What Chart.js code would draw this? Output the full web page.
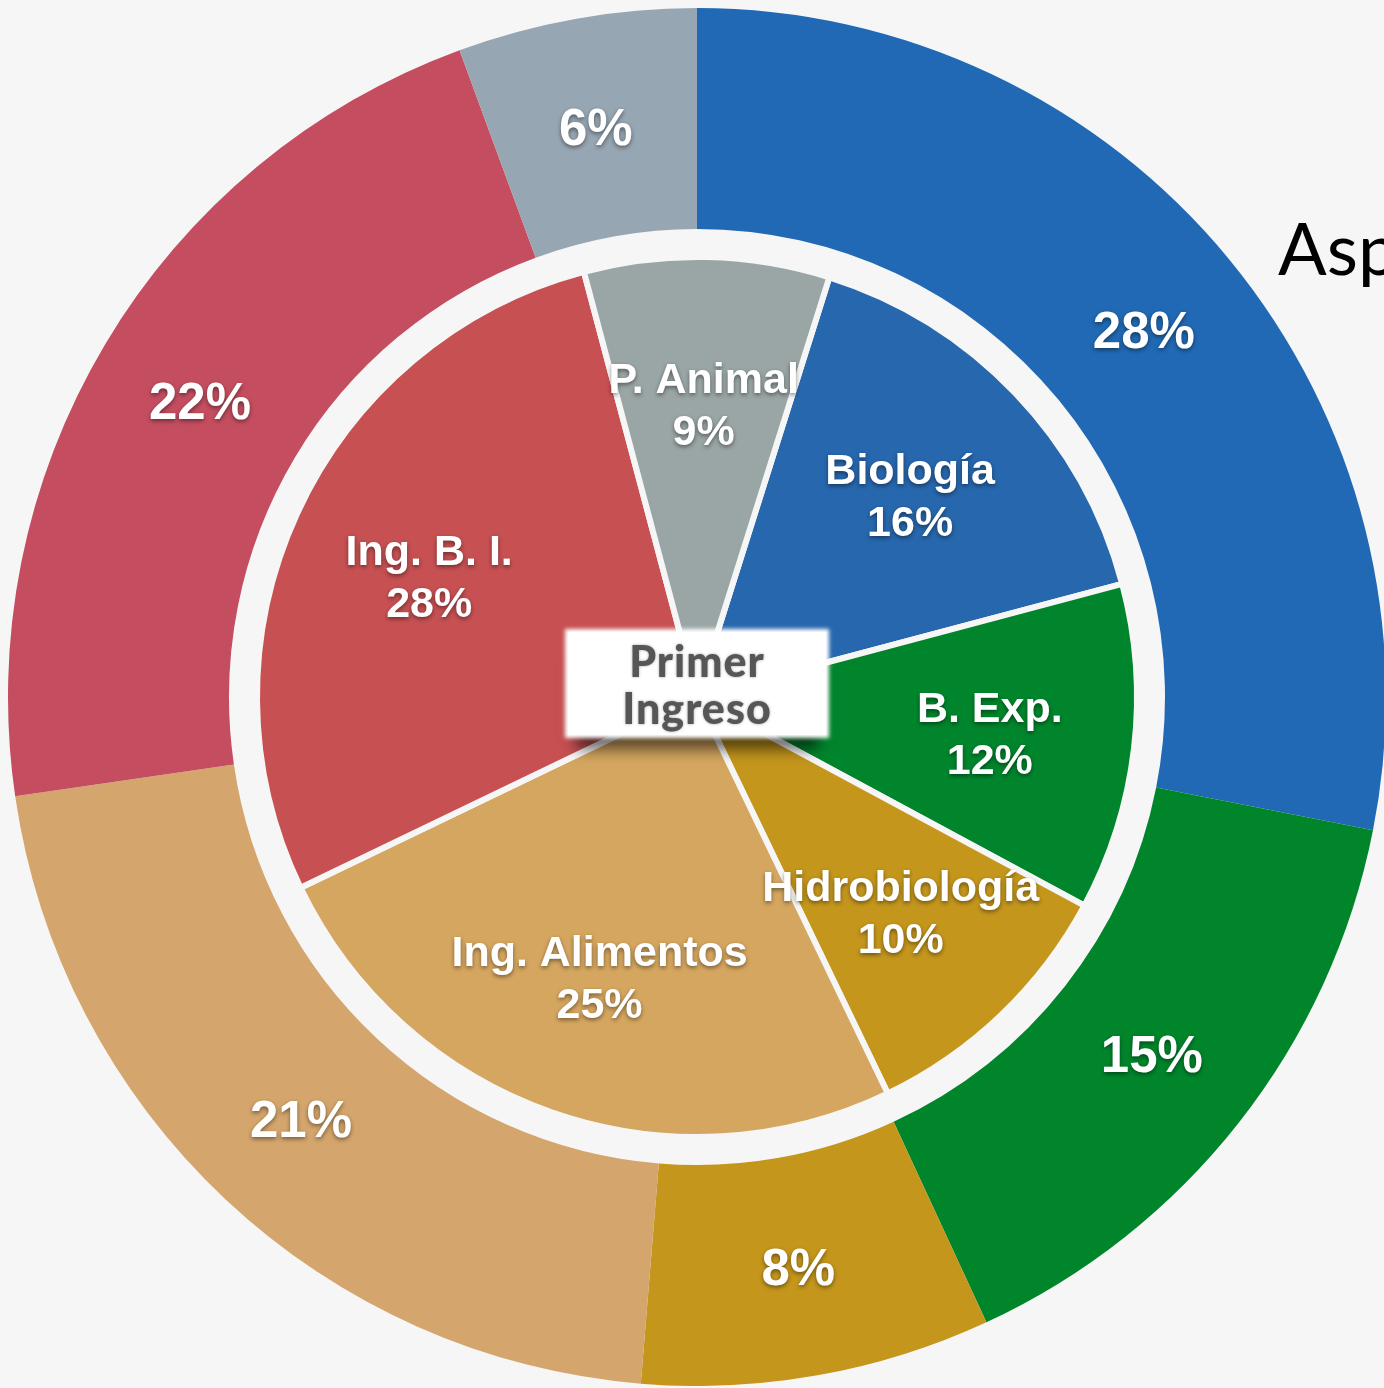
<!DOCTYPE html>
<html lang="es">
<head>
<meta charset="utf-8">
<title>Aspirantes - Primer Ingreso</title>
<script src="https://cdn.jsdelivr.net/npm/chart.js@4.4.1/dist/chart.umd.min.js"></script>
<style>
  html, body {
    margin: 0;
    padding: 0;
    width: 1384px;
    height: 1388px;
    overflow: hidden;
    background: #f6f6f6;
  }
  #wrap {
    position: absolute;
    left: 8px;
    top: 8px;
    width: 1378px;
    height: 1378px;
  }
  #title {
    position: absolute;
    left: 1278px;
    top: 211px;
    font: 400 72px/72px "Lato", "Open Sans", sans-serif;
    color: #000;
    white-space: nowrap;
  }
  #center {
    position: absolute;
    left: 568px;
    top: 632px;
    width: 258px;
    height: 103px;
    background: #fff;
    box-shadow: 0 0 4px 3px #fff, 0 22px 14px -8px rgba(0, 0, 0, 0.6);
    display: flex;
    flex-direction: column;
    align-items: center;
    justify-content: center;
    font: 900 43px/47px "Lato", "Open Sans", sans-serif;
    letter-spacing: 1px;
    color: #565656;
    text-shadow: 0 0 3px rgba(0, 0, 0, 0.35);
  }
</style>
</head>
<body>
<div id="title">Aspirantes</div>
<div id="wrap"><canvas id="ringChart"></canvas></div>
<div id="center"><span>Primer</span><span>Ingreso</span></div>

<script>
// Outer ring (share of aspirants, %)
const outerValues = [28.1, 15.0, 8.2, 21.4, 21.7, 5.6];
const outerColors = ["#2169b4", "#00852b", "#c4961c", "#d4a56c", "#c44e60", "#97a6b3"];

// Inner pie (primer ingreso, %)
const innerLabels = ["Biología", "B. Exp.", "Hidrobiología", "Ing. Alimentos", "Ing. B. I.", "P. Animal"];
const innerValues = [16, 12, 10, 25, 28, 9];
const innerColors = ["#2767ad", "#00852c", "#c4961c", "#d5a660", "#c75052", "#9aa6a5"];

const bg = "#f6f6f6";

// draws the % labels on each arc
const arcLabels = {
  id: "arcLabels",
  afterDatasetsDraw(chart) {
    const ctx = chart.ctx;
    ctx.save();
    ctx.fillStyle = "#fff";
    ctx.textAlign = "center";
    ctx.textBaseline = "middle";
    ctx.shadowColor = "rgba(0,0,0,0.45)";
    ctx.shadowBlur = 4;
    ctx.shadowOffsetY = 2;

    // outer ring
    ctx.font = 'bold 51px "Liberation Sans", Arial, sans-serif';
    chart.getDatasetMeta(0).data.forEach((arc, i) => {
      const p = arc.getProps(["x", "y", "startAngle", "endAngle", "innerRadius", "outerRadius"], true);
      const a = (p.startAngle + p.endAngle) / 2;
      const r = (p.innerRadius + p.outerRadius) / 2;
      ctx.fillText(Math.round(outerValues[i]) + "%", p.x + r * Math.cos(a), p.y + r * Math.sin(a) + 4);
    });

    // inner pie
    ctx.font = 'bold 43px "Liberation Sans", Arial, sans-serif';
    chart.getDatasetMeta(2).data.forEach((arc, i) => {
      const p = arc.getProps(["x", "y", "startAngle", "endAngle", "outerRadius"], true);
      const a = (p.startAngle + p.endAngle) / 2;
      const r = p.outerRadius * 0.67;
      const x = p.x + r * Math.cos(a);
      const y = p.y + r * Math.sin(a) + 5;
      ctx.fillText(innerLabels[i], x, y - 26);
      ctx.fillText(Math.round(innerValues[i]) + "%", x, y + 26);
    });
    ctx.restore();
  }
};

new Chart(document.getElementById("ringChart"), {
  type: "pie",
  data: {
    labels: innerLabels,
    datasets: [
      {
        data: outerValues,
        backgroundColor: outerColors,
        borderWidth: 0,
        hoverBorderWidth: 0,
        weight: 221,
        rotation: 0
      },
      {
        // empty ring between the two
        data: [1],
        backgroundColor: "rgba(0,0,0,0)",
        borderWidth: 0,
        hoverBorderWidth: 0,
        weight: 28
      },
      {
        data: innerValues,
        backgroundColor: innerColors,
        borderColor: bg,
        borderWidth: 6,
        hoverBorderWidth: 6,
        weight: 440,
        rotation: 17.5
      }
    ]
  },
  options: {
    responsive: true,
    maintainAspectRatio: false,
    animation: false,
    events: [],
    layout: { padding: 0 },
    plugins: {
      legend: { display: false },
      tooltip: { enabled: false }
    }
  },
  plugins: [arcLabels]
});
</script>
</body>
</html>
